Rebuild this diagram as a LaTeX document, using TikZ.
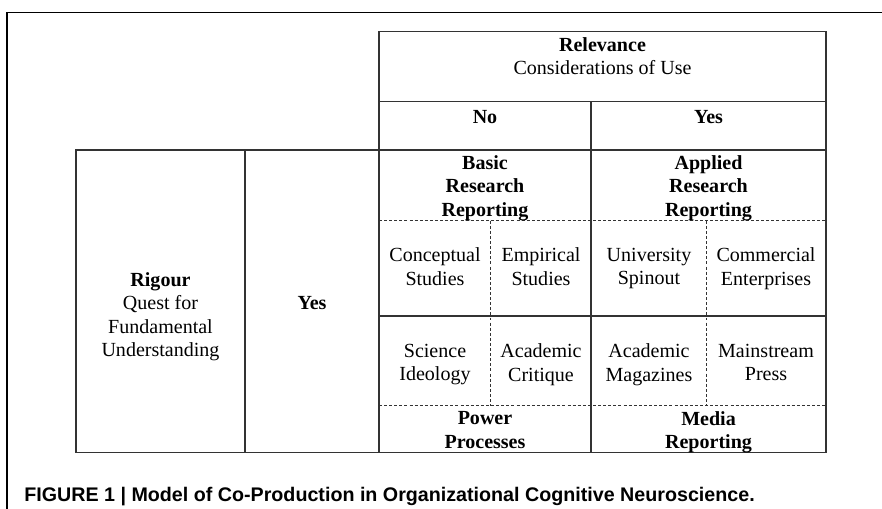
\documentclass[tikz,border=0pt]{standalone}
\usepackage{fontspec}
\setmainfont{Liberation Serif}
\newfontfamily\capfont{Liberation Sans}
\tikzset{%
	cell/.style={align=center, inner sep=0pt, font=\fontsize{11.4}{13.4}\selectfont,
		execute at begin node=\strut, execute at end node=\strut},
	head/.style={cell, font=\fontsize{11.4}{13.4}\selectfont\bfseries},
	rule/.style={draw=black!80, line width=0.6pt},
	dotrule/.style={rule, dash pattern=on 1.7pt off 1.2pt},
	frame/.style={draw=black, line width=0.9pt},
	capt/.style={anchor=base west, inner sep=0pt, font=\capfont\fontsize{11.2}{13}\selectfont\bfseries}
}

\begin{document}
\begin{tikzpicture}[x=0.02cm, y=-0.02cm]
	\useasboundingbox (0,0) rectangle (882,509);
	\fill[white] (0,0) rectangle (882,509);
	\draw[frame] (7,509) -- (7,12.3) -- (882,12.3);

	\draw[rule] (379,31.7) rectangle (826,150);
	\draw[rule] (379,101.7) -- (826,101.7);
	\draw[rule] (591,101.7) -- (591,452.3);
	\draw[rule] (76,150) rectangle (826,452.3);
	\draw[rule] (245,150) -- (245,452.3);
	\draw[rule] (379,150) -- (379,452.3);
	\draw[rule] (379,316) -- (826,316);
	\draw[dotrule] (379,220.7) -- (826,220.7);
	\draw[dotrule] (379,405.7) -- (826,405.7);
	\draw[dotrule] (490.7,220.7) -- (490.7,405.7);
	\draw[dotrule] (706.7,220.7) -- (706.7,405.7);

	\node[cell] (relev) at (602.5,59.5) {\textbf{Relevance}\\Considerations of Use};
	\node[head] (no) at (485,119) {No};
	\node[head] (yesuse) at (708.5,119) {Yes};
	\node[head] (basic) at (485,189.5) {Basic\\Research\\Reporting};
	\node[head] (applied) at (708.5,189.5) {Applied\\Research\\Reporting};
	\node[cell] (concept) at (435,270) {Conceptual\\Studies};
	\node[cell] (empir) at (541,270) {Empirical\\Studies};
	\node[cell] (spinout) at (649,270) {University\\Spinout};
	\node[cell] (commerce) at (766,270) {Commercial\\Enterprises};
	\node[cell] (ideology) at (435,366) {Science\\Ideology};
	\node[cell] (critique) at (541,366) {Academic\\Critique};
	\node[cell] (magazine) at (649,366) {Academic\\Magazines};
	\node[cell] (press) at (766,366) {Mainstream\\Press};
	\node[head] (power) at (485,433.5) {Power\\Processes};
	\node[head] (media) at (708.5,433.5) {Media\\Reporting};
	\node[cell] (rigour) at (160.5,318) {\textbf{Rigour}\\Quest for\\Fundamental\\Understanding};
	\node[head] (yesrig) at (312,305) {Yes};

	\node[capt] (caption) at (24,501.7) {FIGURE 1 | Model of Co-Production in Organizational Cognitive Neuroscience.};
\end{tikzpicture}
\end{document}
